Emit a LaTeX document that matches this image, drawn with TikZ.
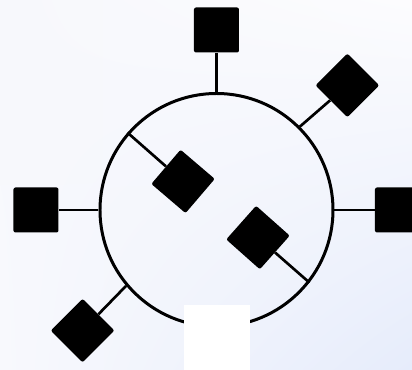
\documentclass[tikz,border=0pt]{standalone}
\usetikzlibrary{positioning, shadings}
\definecolor{bgul}{HTML}{F7F8FC}
\definecolor{bgur}{HTML}{FCFCFE}
\definecolor{bgll}{HTML}{F8F9FD}
\definecolor{bglr}{HTML}{E6ECFB}
\begin{document}
\begin{tikzpicture}[
        x=0.75pt, y=0.75pt,
        ring/.style={circle, draw, line width=2.25pt, minimum size=174.75pt, inner sep=0pt},
        port/.style={rectangle, fill=black, minimum size=33.75pt, inner sep=0pt, rounded corners=1.5pt},
        gap/.style={rectangle, fill=white, minimum width=49.5pt, minimum height=50pt, inner sep=0pt, anchor=north},
        link/.style={draw, line width=2pt}
    ]
    % background
    \shade[upper left=bgul, upper right=bgur, lower left=bgll, lower right=bglr]
        (-216.5,-160) rectangle (195.5,210);
    \useasboundingbox (-216.5,-160) rectangle (195.5,210);
    \node[ring] (c) at (0,0) {};
    % outer ports
    \node[port] (pn) at (90:180) {};
    \node[port] (pw) at (180:180.5) {};
    \node[port] (pe) at (0:181) {};
    \node[port, rotate=45] (pne) at (43.6:180.7) {};
    \node[port, rotate=45] (psw) at (222:180.2) {};
    % inner ports
    \node[port, rotate=49.5] (pi1) at (139.5:44) {};
    \node[port, rotate=48.4] (pi2) at (-33.6:49.8) {};
    % links
    \draw[link] (pn) -- (c.90);
    \draw[link] (pw) -- (c.180);
    \draw[link] (pe) -- (c.0);
    \draw[link] (pne) -- (c.45);
    \draw[link] (psw) -- (c.220);
    \draw[link] (pi1) -- (c.139.5);
    \draw[link] (pi2) -- (c.-38);
    % opening
    \node[gap] (g) at (0.5,-94.7) {};
\end{tikzpicture}
\end{document}
